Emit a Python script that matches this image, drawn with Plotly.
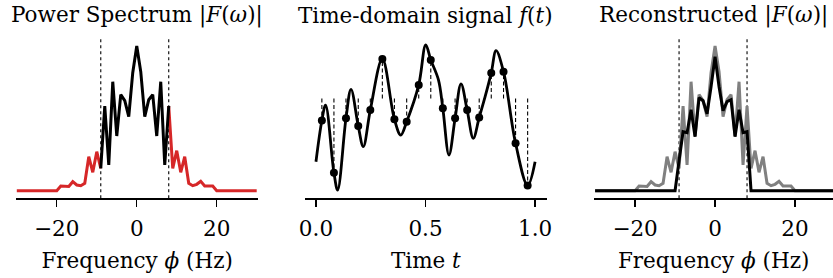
import numpy as np
import plotly.graph_objects as go

# ---------------- data ----------------
freqs = list(range(-30, 31))
spectrum_mag = [
    0, 0, 0, 0, 0, 0, 0, 0, 0, 0,            # -30 .. -21
    0, 0.47, 0.47, 0.42, 0.90, 0.57, 0.50, 0.74, 3.40, 1.84,   # -20 .. -11
    3.90, 2.24, 8.47, 2.57, 10.9, 5.47, 9.60, 9.00, 7.40, 11.8, # -10 .. -1
    14.47,                                   # 0
    11.9, 7.40, 9.10, 9.60, 5.47, 10.9, 2.57, 8.47, 2.24, 4.00, # 1 .. 10
    1.84, 3.40, 0.74, 0.50, 0.64, 0.94, 0.47, 0.47, 0.47, 0,    # 11 .. 20
    0, 0, 0, 0, 0, 0, 0, 0, 0, 0,            # 21 .. 30
]
recon_mag = [
    0, 0, 0, 0, 0, 0, 0, 0, 0, 0,            # -30 .. -21
    0, 0, 0, 0, 0, 0, 0, 0, 0, 0,            # -20 .. -11
    0, 3.0, 5.9, 5.8, 8.1, 5.4, 9.3, 9.0, 7.7, 10.4,          # -10 .. -1
    13.4,                                    # 0
    10.4, 8.0, 8.9, 9.1, 5.4, 8.1, 5.8, 5.9, 0, 0,            # 1 .. 10
    0, 0, 0, 0, 0, 0, 0, 0, 0, 0,            # 11 .. 20
    0, 0, 0, 0, 0, 0, 0, 0, 0, 0,            # 21 .. 30
]
cut_lo, cut_hi = -9, 8
freq_ticks = [-20, 0, 20]

t_curve = [0.000, 0.027, 0.044, 0.082, 0.099, 0.137, 0.160, 0.193, 0.216, 0.248,
           0.303, 0.358, 0.387, 0.414, 0.469, 0.501, 0.524, 0.559, 0.579, 0.607,
           0.635, 0.662, 0.690, 0.718, 0.745, 0.772, 0.800, 0.822, 0.856, 0.911,
           0.966, 1.000]
f_curve = [-3.16, -1.10, -0.33, -3.71, -4.58, -0.99, 0.46, -1.38, -2.41, -0.58,
           1.98, -1.04, -1.83, -1.16, 0.68, 2.68, 1.93, 0.93, -0.49, -2.83,
           -0.99, 0.73, -0.58, -1.99, -0.95, 0.09, 1.28, 2.39, 1.34, -2.24,
           -4.35, -3.16]
t_samples = [0.027, 0.082, 0.137, 0.193, 0.248, 0.303, 0.358, 0.414, 0.469,
             0.524, 0.579, 0.635, 0.690, 0.745, 0.800, 0.856, 0.911, 0.966]
f_samples = [-1.10, -3.71, -0.99, -1.38, -0.58, 1.98, -1.04, -1.16, 0.68,
             1.93, -0.49, -0.99, -0.58, -0.95, 1.28, 1.34, -2.24, -4.35]
mean_level = 0.0
time_ticks = [0.0, 0.5, 1.0]

titles = ["Power Spectrum |<i>F</i>(<i>ω</i>)|",
          "Time-domain signal <i>f</i>(<i>t</i>)",
          "Reconstructed |<i>F</i>(<i>ω</i>)|"]
xlabels = ["Frequency <i>ϕ</i> (Hz)", "Time <i>t</i>", "Frequency <i>ϕ</i> (Hz)"]

# ---------------- figure ----------------
W, H = 833, 278
FONT = "DejaVu Serif, serif"
FS = 21.5
RED = "#d62728"
GRAY = "#808080"

fq = np.array(freqs, dtype=float)
sp = np.array(spectrum_mag, dtype=float)
inside = (fq >= cut_lo) & (fq <= cut_hi)
red_y = np.where(fq <= cut_lo, sp, np.nan)
red_y2 = np.where(fq >= cut_hi, sp, np.nan)
blk_y = np.where(inside, sp, np.nan)

fig = go.Figure()

# panel 1
fig.add_trace(go.Scatter(x=fq, y=red_y, mode="lines", line=dict(color=RED, width=3),
                         xaxis="x", yaxis="y", showlegend=False))
fig.add_trace(go.Scatter(x=fq, y=red_y2, mode="lines", line=dict(color=RED, width=3),
                         xaxis="x", yaxis="y", showlegend=False))
fig.add_trace(go.Scatter(x=fq, y=blk_y, mode="lines", line=dict(color="black", width=3),
                         xaxis="x", yaxis="y", showlegend=False))

# panel 2: dashed stems
sx, sy = [], []
for t, f in zip(t_samples, f_samples):
    sx += [t, t, None]
    sy += [mean_level, f, None]
fig.add_trace(go.Scatter(x=sx, y=sy, mode="lines",
                         line=dict(color="black", width=1.1, dash="4px,2.5px"),
                         xaxis="x2", yaxis="y2", showlegend=False))
fig.add_trace(go.Scatter(x=t_curve, y=f_curve, mode="lines",
                         line=dict(color="black", width=2.8, shape="spline", smoothing=1.0),
                         xaxis="x2", yaxis="y2", showlegend=False))
fig.add_trace(go.Scatter(x=t_samples, y=f_samples, mode="markers",
                         marker=dict(color="black", size=8),
                         xaxis="x2", yaxis="y2", showlegend=False))

# panel 3
fig.add_trace(go.Scatter(x=fq, y=sp, mode="lines", line=dict(color=GRAY, width=3),
                         xaxis="x3", yaxis="y3", showlegend=False))
fig.add_trace(go.Scatter(x=freqs, y=recon_mag, mode="lines", line=dict(color="black", width=3),
                         xaxis="x3", yaxis="y3", showlegend=False))

# cutoff lines
for xr in ["x", "x3"]:
    for c in (cut_lo, cut_hi):
        fig.add_shape(type="line", xref=xr, yref=("y domain" if xr == "x" else "y3 domain"),
                      x0=c, x1=c, y0=0, y1=1,
                      line=dict(color="black", width=1.1, dash="dot"), layer="below")

doms = [[16 / W, 258.3 / W], [305 / W, 546.7 / W], [594.3 / W, 1.0]]
ydom = [1 - 198.3 / H, 1 - 39 / H]
xranges = [[-30.2, 30.4], [-0.05, 1.053], [-30.2, 29.5]]
yranges = [[-0.76, 15.17], [-4.99, 2.975], [-0.76, 15.17]]

layout = dict(width=W, height=H, margin=dict(l=0, r=0, t=0, b=0, autoexpand=False),
              autosize=False,
              paper_bgcolor="white", plot_bgcolor="white",
              font=dict(family=FONT, size=FS, color="black"))
for i in range(3):
    sfx = "" if i == 0 else str(i + 1)
    ax = dict(domain=doms[i], range=xranges[i], showline=True, linecolor="black",
              linewidth=1.3, ticks="outside", ticklen=7, tickwidth=1.3, tickcolor="black",
              showgrid=False, zeroline=False, anchor="y" + sfx, automargin=False,
              ticklabelstandoff=4,
              tickfont=dict(family=FONT, size=FS),
              title=dict(text=xlabels[i], font=dict(family=FONT, size=FS), standoff=12))
    if i == 1:
        ax["tickvals"] = time_ticks
        ax["tickformat"] = ".1f"
    else:
        ax["tickvals"] = freq_ticks
    layout["xaxis" + sfx] = ax
    layout["yaxis" + sfx] = dict(domain=ydom, range=yranges[i], visible=False,
                                 showgrid=False, zeroline=False, anchor="x" + sfx,
                                 automargin=False)
fig.update_layout(**layout)

for i in range(3):
    fig.add_annotation(text=titles[i], x=(doms[i][0] + doms[i][1]) / 2, y=1 - 15.5 / H,
                       xref="paper", yref="paper", xanchor="center", yanchor="middle",
                       showarrow=False, font=dict(family=FONT, size=FS, color="black"))

fig.write_html("out.html", config={"displayModeBar": False, "staticPlot": True},
               post_script="document.body.style.margin='0px';document.body.style.padding='0px';")
